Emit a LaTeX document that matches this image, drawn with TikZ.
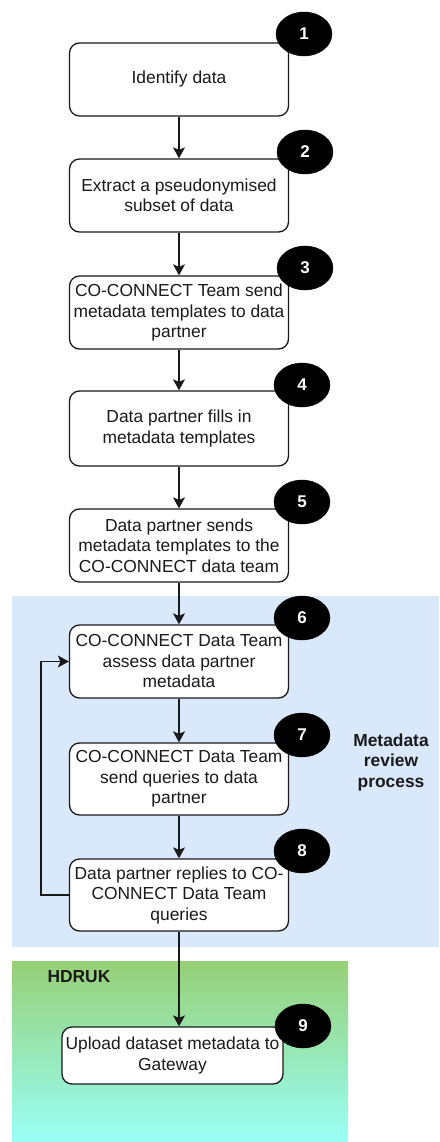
\documentclass[tikz,border=0pt]{standalone}
\usepackage{fontspec}
\setmainfont{Liberation Sans}
\usetikzlibrary{shapes.geometric,arrows.meta}
\definecolor{bluebg}{HTML}{DAE8FC}
\definecolor{greentop}{HTML}{97D077}
\definecolor{greenbot}{HTML}{99FFF6}
\definecolor{ink}{HTML}{1A1A1A}
\tikzset{
  stepbox/.style={draw=ink, line width=1.3pt, rounded corners=10pt, fill=white,
    minimum width=219pt, minimum height=73pt, align=center, inner sep=2pt,
    font=\fontsize{17.4}{20.5}\selectfont, text=ink},
  badge/.style={ellipse, fill=black, draw=black, minimum width=56pt, minimum height=44pt,
    inner sep=0pt, text=white, font=\bfseries\fontsize{17}{17}\selectfont},
  flow/.style={draw=ink, line width=1.3pt, -{Stealth[length=11pt,width=12pt,inset=2.5pt]}},
  region/.style={font=\bfseries\fontsize{17.4}{20.5}\selectfont, text=ink, align=center}
}
\begin{document}
\begin{tikzpicture}[x=1pt,y=-1pt]
\useasboundingbox (0,0) rectangle (439,1142);
\fill[white] (0,0) rectangle (439,1142);
% regions
\fill[bluebg] (12,596) rectangle (439,947);
\shade[top color=greentop, bottom color=greenbot] (12,961) rectangle (348,1142);
\node[region] (mrp) at (391,762) {Metadata\\review\\process};
\node[region, anchor=west] (hdruk) at (44,977) {HDRUK};
% boxes
\node[stepbox] (b1) at (179,79.5) {Identify data};
\node[stepbox] (b2) at (179,195.5) {Extract a pseudonymised\\subset of data};
\node[stepbox] (b3) at (179,312.5) {CO-CONNECT Team send\\metadata templates to data\\partner};
\node[stepbox, minimum height=75pt] (b4) at (179,428.5) {Data partner fills in\\metadata templates};
\node[stepbox] (b5) at (179,545.5) {Data partner sends\\metadata templates to the\\CO-CONNECT data team};
\node[stepbox] (b6) at (179,661.5) {CO-CONNECT Data Team\\assess data partner\\metadata};
\node[stepbox, minimum height=72pt] (b7) at (179,779) {CO-CONNECT Data Team\\send queries to data\\partner};
\node[stepbox, minimum height=72pt] (b8) at (179,895) {Data partner replies to CO-\\CONNECT Data Team\\queries};
\node[stepbox, minimum width=221pt, minimum height=57pt] (b9) at (172.5,1055.5) {Upload dataset metadata to\\Gateway};
% connectors
\draw[flow] (b1) -- (b2);
\draw[flow] (b2) -- (b3);
\draw[flow] (b3) -- (b4);
\draw[flow] (b4) -- (b5);
\draw[flow] (b5) -- (b6);
\draw[flow] (b6) -- (b7);
\draw[flow] (b7) -- (b8);
\draw[flow] (b8.south) -- (b8.south |- b9.north);
\coordinate (lb) at (41,895);
\coordinate (lt) at (41,661.5);
\draw[flow] (b8.west) -- (lb) -- (lt) -- (b6.west);
% badges
\node[badge] (n1) at (304,34) {1};
\node[badge] (n2) at (305,152) {2};
\node[badge] (n3) at (305,268) {3};
\node[badge] (n4) at (302,385) {4};
\node[badge] (n5) at (302,502) {5};
\node[badge] (n6) at (302,618) {6};
\node[badge] (n7) at (302,735) {7};
\node[badge] (n8) at (302,851) {8};
\node[badge] (n9) at (303,1026) {9};
\end{tikzpicture}
\end{document}
